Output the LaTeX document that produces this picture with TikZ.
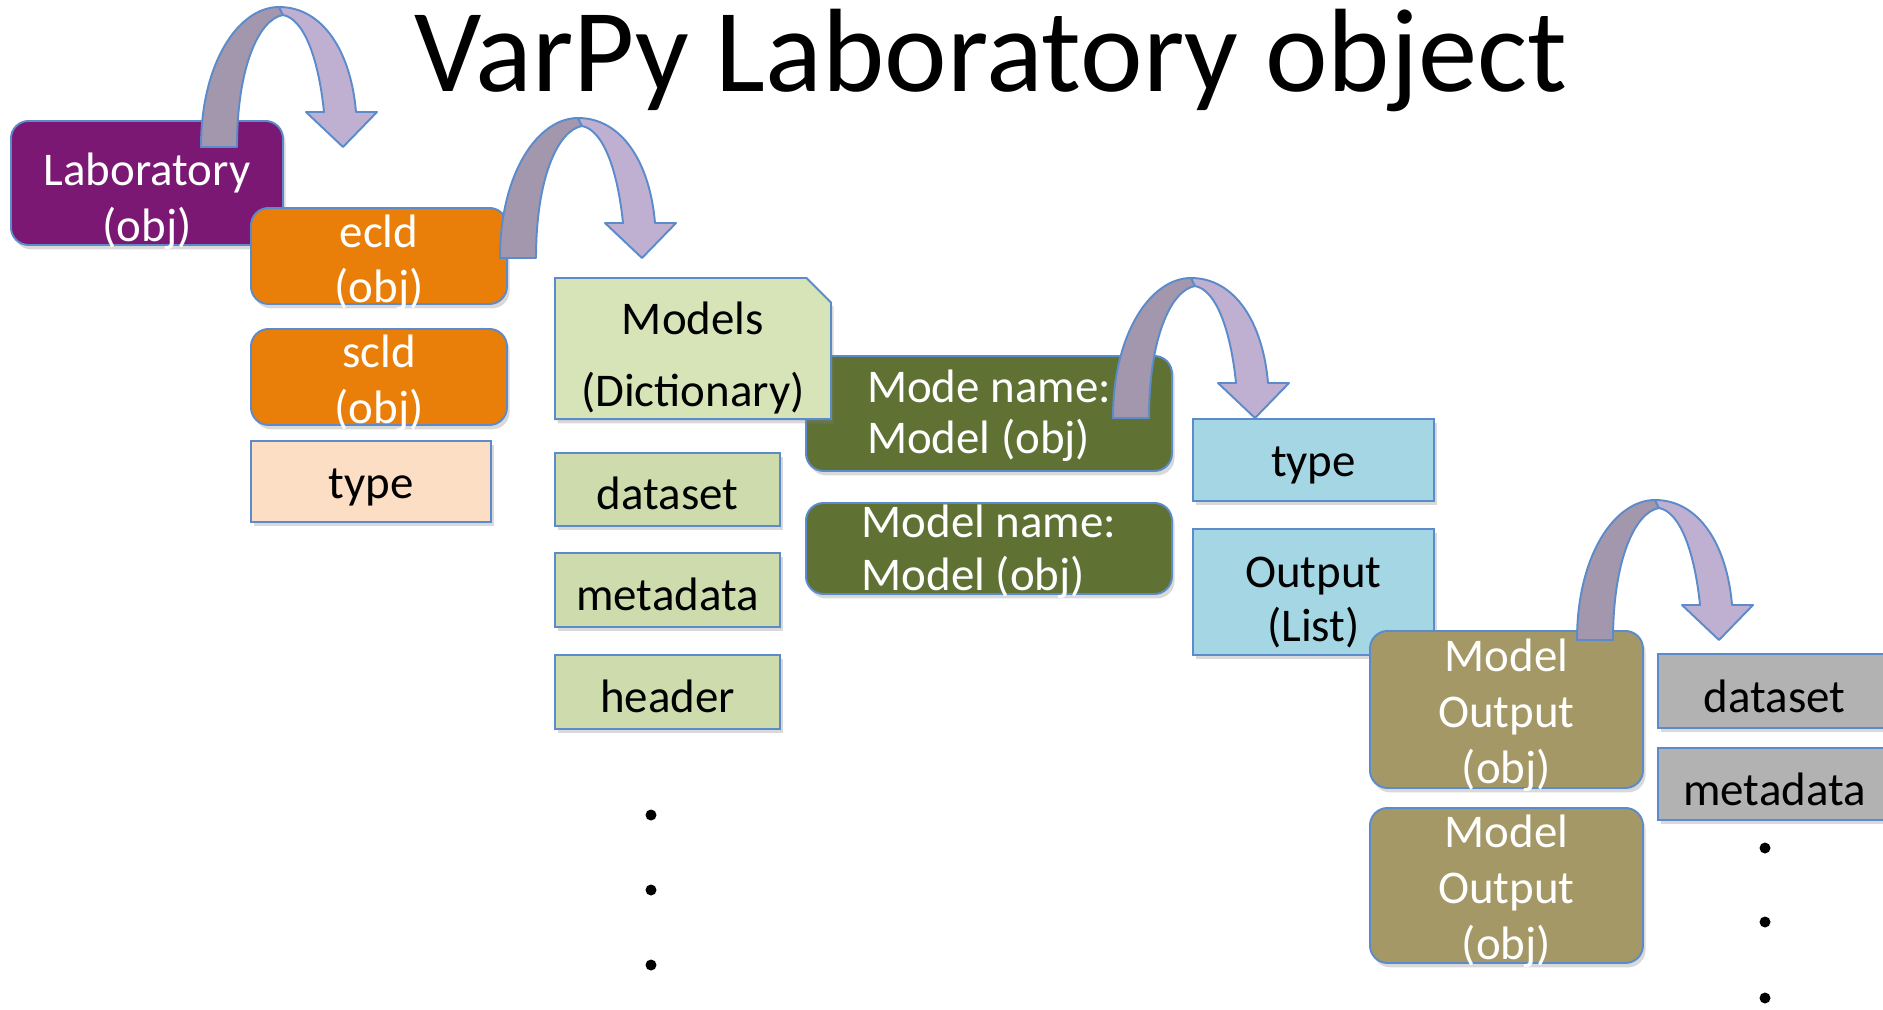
\documentclass[tikz,border=0pt]{standalone}
\usepackage{fontspec}
\setmainfont{Carlito}
\usepackage{tikz}
\usetikzlibrary{positioning, shapes.misc, shadows}

\definecolor{labpurple}{HTML}{7B1874}
\definecolor{eclorange}{HTML}{E97F08}
\definecolor{peach}{HTML}{FBDEC3}
\definecolor{modgreen}{HTML}{D6E4B7}
\definecolor{fieldgreen}{HTML}{CEDCAD}
\definecolor{olive}{HTML}{5F7234}
\definecolor{skyblue}{HTML}{A5D6E4}
\definecolor{khaki}{HTML}{A59867}
\definecolor{greybox}{HTML}{B2B2B2}
\definecolor{arrowdark}{HTML}{A397AE}
\definecolor{arrowlight}{HTML}{BFB0D2}
\definecolor{edgeblue}{HTML}{5B8BCB}

\newcommand{\boxfont}{\fontsize{26.7}{31.7}\selectfont}

% bent arrow, #1 = left foot of the band
\newcommand{\bendarrow}[1]{%
  \begin{scope}[shift={#1}, draw=edgeblue, line width=1.1pt, line join=round]
    \filldraw[fill=arrowdark] (0,0) .. controls (0,-85) and (38,-140) .. (78,-140)
      -- (82,-132) .. controls (58,-128) and (36,-80) .. (36,0) -- cycle;
    \filldraw[fill=arrowlight] (78,-140) .. controls (122,-140) and (150,-95) .. (155,-35)
      -- (176,-35) -- (142,0) -- (105,-35) -- (123,-35)
      .. controls (118,-85) and (104,-128) .. (82,-132) -- cycle;
  \end{scope}}

\begin{document}
\begin{tikzpicture}[
    x=0.02cm, y=-0.02cm,
    every node/.style={font=\boxfont},
    dims/.style 2 args={minimum width=#1*0.02cm, minimum height=#2*0.02cm},
    txtpos/.style 2 args={text height=#1pt, text depth=#2pt},
    item/.style={draw=edgeblue, line width=1.1pt, align=center, inner sep=0pt, anchor=north west,
                 drop shadow={opacity=0.3, shadow xshift=1.5pt, shadow yshift=-2.5pt}},
    objbox/.style={item, rounded corners=10pt, text=white},
    fieldbox/.style={item, text=black},
    dot/.style={circle, fill=black, inner sep=0pt, minimum size=0.22cm}
]
\useasboundingbox (0,0) rectangle (1883,1009);

% Title
\node[font=\fontsize{67.5}{70}\selectfont, anchor=base] (title) at (991,91) {VarPy Laboratory object};

% Laboratory and its members
\node[objbox, fill=labpurple, dims={272}{124}, txtpos={66.3}{0}] (lab) at (10,120) {Laboratory\\(obj)};
\node[objbox, fill=eclorange, dims={256}{96}, txtpos={53.3}{0}] (ecld) at (250,207) {ecld\\(obj)};
\node[objbox, fill=eclorange, dims={256}{96}, txtpos={52.7}{0}] (scld) at (250,328) {scld\\(obj)};
\node[fieldbox, fill=peach, dims={240}{81}, txtpos={19}{0}] (typeA) at (250,440) {type};

% Models of ecld
\node[objbox, fill=olive, dims={366}{115}, align=left, txtpos={45.4}{0},
      font=\fontsize{26.7}{29}\selectfont] (modeA) at (805,355) {Mode name:\\Model (obj)};
\node[objbox, fill=olive, dims={366}{91}, align=left, txtpos={47.6}{0},
      font=\fontsize{26.7}{30}\selectfont] (modeB) at (805,502) {Model name:\\Model (obj)};
\node[fieldbox, fill=modgreen, dims={276}{137}, chamfered rectangle, chamfered rectangle corners=north east,
      chamfered rectangle xsep=7pt, chamfered rectangle ysep=7pt, txtpos={66.3}{0},
      font=\fontsize{26.7}{41}\selectfont] (models) at (554,277) {Models\\(Dictionary)};
\node[fieldbox, fill=fieldgreen, dims={225}{73}, txtpos={23.2}{0}] (dataA) at (554,452) {dataset};
\node[fieldbox, fill=fieldgreen, dims={225}{74}, txtpos={23.2}{0}] (metaA) at (554,552) {metadata};
\node[fieldbox, fill=fieldgreen, dims={225}{74}, txtpos={23.2}{0}] (headA) at (554,654) {header};
\foreach \i/\y in {1/815, 2/890, 3/965}
  \node[dot] (dotA\i) at (651,\y) {};

% Model members
\node[fieldbox, fill=skyblue, dims={241}{82}, txtpos={19.3}{0}] (typeB) at (1192,418) {type};
\node[fieldbox, fill=skyblue, dims={241}{126}, txtpos={56.7}{0},
      font=\fontsize{26.7}{31}\selectfont] (outB) at (1192,528) {Output\\(List)};
\node[objbox, fill=khaki, dims={273}{157}, txtpos={84.5}{0},
      font=\fontsize{26.7}{32}\selectfont] (moutA) at (1369,630) {Model\\Output\\(obj)};
\node[objbox, fill=khaki, dims={273}{155}, txtpos={84.5}{0},
      font=\fontsize{26.7}{32}\selectfont] (moutB) at (1369,807) {Model\\Output\\(obj)};

% Model output members
\node[fieldbox, fill=greybox, dims={233}{74}, txtpos={24.4}{0}] (dataC) at (1657,653) {dataset};
\node[fieldbox, fill=greybox, dims={233}{72}, txtpos={24.4}{0}] (metaC) at (1657,747) {metadata};
\foreach \i/\y in {1/848, 2/922, 3/998}
  \node[dot] (dotC\i) at (1765,\y) {};

% Bent arrows
\bendarrow{(201,147)}
\bendarrow{(500,258)}
\bendarrow{(1113,418)}
\bendarrow{(1577,640)}

\end{tikzpicture}
\end{document}
